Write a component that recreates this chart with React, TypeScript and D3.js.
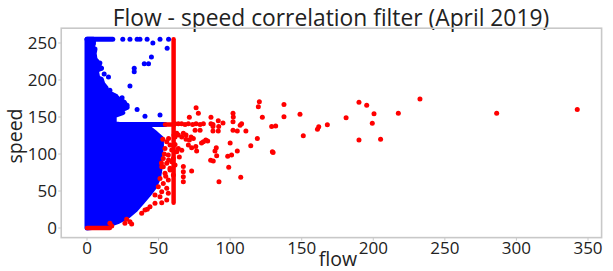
import React from 'react';
import * as d3 from 'd3';

const W = 613;
const H = 271;

const title = 'Flow - speed correlation filter (April 2019)';
const xTicks = [0, 50, 100, 150, 200, 250, 300, 350];
const yTicks = [0, 50, 100, 150, 200, 250];

// dense blue mass (kept points), outline as [flow, speed]
const blueCloud: [number, number][] = [
  [0, 0], [0, 255], [4.5, 255], [4.5, 249], [3.5, 244], [5.6, 242], [5, 236],
  [5.6, 228], [7, 225], [7.5, 219], [10, 216], [6.5, 213], [7.5, 203], [10, 201],
  [11, 195], [13.4, 189], [13.4, 182], [17, 181], [20, 178], [22, 174], [26, 170],
  [27, 166], [28, 163], [24, 160], [25, 156], [19, 152], [19, 141], [30, 138],
  [38, 136], [44, 134], [46, 131], [48, 128], [52, 121], [52, 110], [51, 95],
  [51, 80], [50, 68], [47, 55], [43, 45], [39, 36], [34, 25], [28, 15], [22, 9],
  [16, 5], [10, 2], [0, 0],
];

// runs of points so close they read as lines
const blueRuns = [
  { x1: 0, y1: 255, x2: 18, y2: 255 },
  { x1: 19.5, y1: 140, x2: 54.5, y2: 140 },
];

const bluePoints: [number, number][] = [
  [25, 255], [30, 255], [35, 255], [37, 255], [42, 255], [51, 255], [57, 255],
  [46, 250], [56, 243], [45, 231], [43, 222], [40, 222], [33, 216], [33, 211],
  [30, 192], [15, 204], [10, 216], [20, 178], [24.5, 176], [35, 160], [40.5, 151],
  [51, 152.6], [23, 172], [26.6, 162], [12, 208], [9, 223], [16, 186], [28, 166],
];

const redRuns = [
  { x1: 60.5, y1: 34, x2: 60.5, y2: 255 },
  { x1: 54.5, y1: 140, x2: 61, y2: 140 },
  { x1: 0, y1: 0, x2: 16, y2: 0 },
];

const redPoints: [number, number][] = [
  // row at 140
  [61.5, 141], [63.8, 141], [66.1, 141], [68.5, 140], [70.8, 141], [73.8, 140],
  [76.2, 141], [79, 140], [81.3, 141], [86.6, 141], [88, 140],
  // cluster beside the blue mass
  [61.5, 123], [63.8, 125.6], [55.7, 116.6], [58, 112], [61.5, 113], [54.5, 107.6],
  [59.2, 105.3], [62.7, 103], [56.8, 98.6], [53.3, 94], [60.3, 94], [55.7, 87.4],
  [61.5, 85], [52.2, 82.8], [58, 80.6], [59.2, 89.6], [53.3, 82.8], [58, 78.3],
  [54.5, 73.9], [60.3, 71.6], [51, 67], [56.8, 64.8], [53.3, 60.3], [49.8, 55.8],
  [55.7, 53.6], [52.2, 49], [56.8, 46.9], [47.5, 44.6], [51, 42.3], [55.7, 37.8],
  [47.5, 33.4], [52.2, 34.2], [44, 28.8], [40.5, 24.3], [42.1, 25.3], [38.2, 19.8],
  [27.7, 11.7], [30, 8.5], [26.5, 6.3], [31.2, 5.4], [16, 6.3], [17.3, 2.7],
  [53, 120], [57, 121], [54, 100], [57, 92], [52, 88], [55, 70],
  // scatter 60-130
  [76.2, 162.5], [77.8, 155], [71.5, 149.5], [86.6, 149.5], [91.7, 145], [95, 142],
  [102, 155], [102.2, 150], [102, 143.6], [108, 141], [107, 139], [111, 131], [105, 131],
  [102, 132], [92, 137], [91.7, 131], [120.4, 170.6], [119.7, 164], [122.5, 149.5],
  [137.6, 167], [137.6, 150.3], [129, 137], [131.8, 138], [119, 121], [114.4, 111],
  [130, 102], [100, 115], [105, 104], [101, 98.6], [98.3, 97], [99, 82], [107.4, 68.5],
  [92.2, 62.5], [86.4, 91.4], [88.2, 90.5], [90.6, 97.6], [89.4, 104], [90.3, 108.5],
  [81.3, 116.5], [80, 115], [83, 119], [84.3, 117.5], [73.1, 77], [76.6, 104], [76, 110],
  [72.7, 123], [74.3, 121], [71.5, 119], [69.2, 120], [67.3, 128], [69.2, 125.6],
  [66.2, 123], [62.7, 128], [60.8, 125.6], [67.3, 83], [67.3, 69.3], [67.3, 62.5],
  [67.3, 76], [66.2, 105], [63.8, 107.6], [64.5, 96], [73.1, 108.5], [70.8, 112],
  [75.5, 132], [79, 132], [88, 137], [88, 131],
  // far scatter
  [129.5, 103], [148.8, 153.6], [151.1, 124.7], [161, 133.3], [161.9, 136.8],
  [167.9, 139.5], [181, 149], [190, 169.8], [195.4, 166], [200.5, 154.4],
  [199.3, 141.4], [190, 118.9], [205.1, 119.8], [217.5, 155], [232.6, 174.2],
  [286.2, 155], [342.5, 160.3],
];

export default function App() {
  const x = d3.scaleLinear().domain([0, 350]).range([87, 588]);
  const y = d3.scaleLinear().domain([0, 250]).range([228, 43]);

  const left = x(-18);
  const right = x(359.5);
  const top = y(270);
  const bottom = y(-13);

  const cloudPath = d3.line<[number, number]>()
    .x(d => x(d[0]))
    .y(d => y(d[1]))(blueCloud) + 'Z';

  const dotR = 2.5;
  const font = '"Open Sans", "Liberation Sans", sans-serif';

  return (
    <svg width={W} height={H} style={{ position: 'absolute', left: 0, top: 0, background: '#fff' }}
      fontFamily={font}>
      <text x={331} y={26} textAnchor="middle" fontSize={22.8} fill="#222">{title}</text>

      <defs>
        <clipPath id="plotClip">
          <rect x={left} y={top} width={right - left} height={bottom - top} />
        </clipPath>
      </defs>
      <g clipPath="url(#plotClip)">
        <path d={cloudPath} fill="#0000ff" stroke="#0000ff" strokeWidth={5} strokeLinejoin="round" />
        {blueRuns.map((r, i) => (
          <line key={'br' + i} x1={x(r.x1)} y1={y(r.y1)} x2={x(r.x2)} y2={y(r.y2)}
            stroke="#0000ff" strokeWidth={5} strokeLinecap="round" />
        ))}
        {bluePoints.map((d, i) => (
          <circle key={'b' + i} cx={x(d[0])} cy={y(d[1])} r={dotR} fill="#0000ff" />
        ))}
        {redRuns.map((r, i) => (
          <line key={'rr' + i} x1={x(r.x1)} y1={y(r.y1)} x2={x(r.x2)} y2={y(r.y2)}
            stroke="#ff0000" strokeWidth={4.5} strokeLinecap="round" />
        ))}
        {redPoints.map((d, i) => (
          <circle key={'r' + i} cx={x(d[0])} cy={y(d[1])} r={dotR} fill="#ff0000" />
        ))}
      </g>

      <rect x={left} y={top} width={right - left} height={bottom - top}
        fill="none" stroke="#c8c8c8" strokeWidth={1.6} />

      {xTicks.map(t => (
        <g key={'xt' + t}>
          <line x1={x(t)} x2={x(t)} y1={bottom} y2={bottom + 3} stroke="#c8c8c8" />
          <text x={x(t)} y={254} textAnchor="middle" fontSize={17} fill="#222">{t}</text>
        </g>
      ))}
      {yTicks.map(t => (
        <g key={'yt' + t}>
          <line x1={left - 3} x2={left} y1={y(t)} y2={y(t)} stroke="#c8c8c8" />
          <text x={57} y={y(t) + 6} textAnchor="end" fontSize={17} fill="#222">{t}</text>
        </g>
      ))}

      <text x={338} y={266} textAnchor="middle" fontSize={19.5} fill="#222">flow</text>
      <text transform={`translate(22,136) rotate(-90)`} textAnchor="middle" fontSize={19.5} fill="#222">speed</text>
    </svg>
  );
}
